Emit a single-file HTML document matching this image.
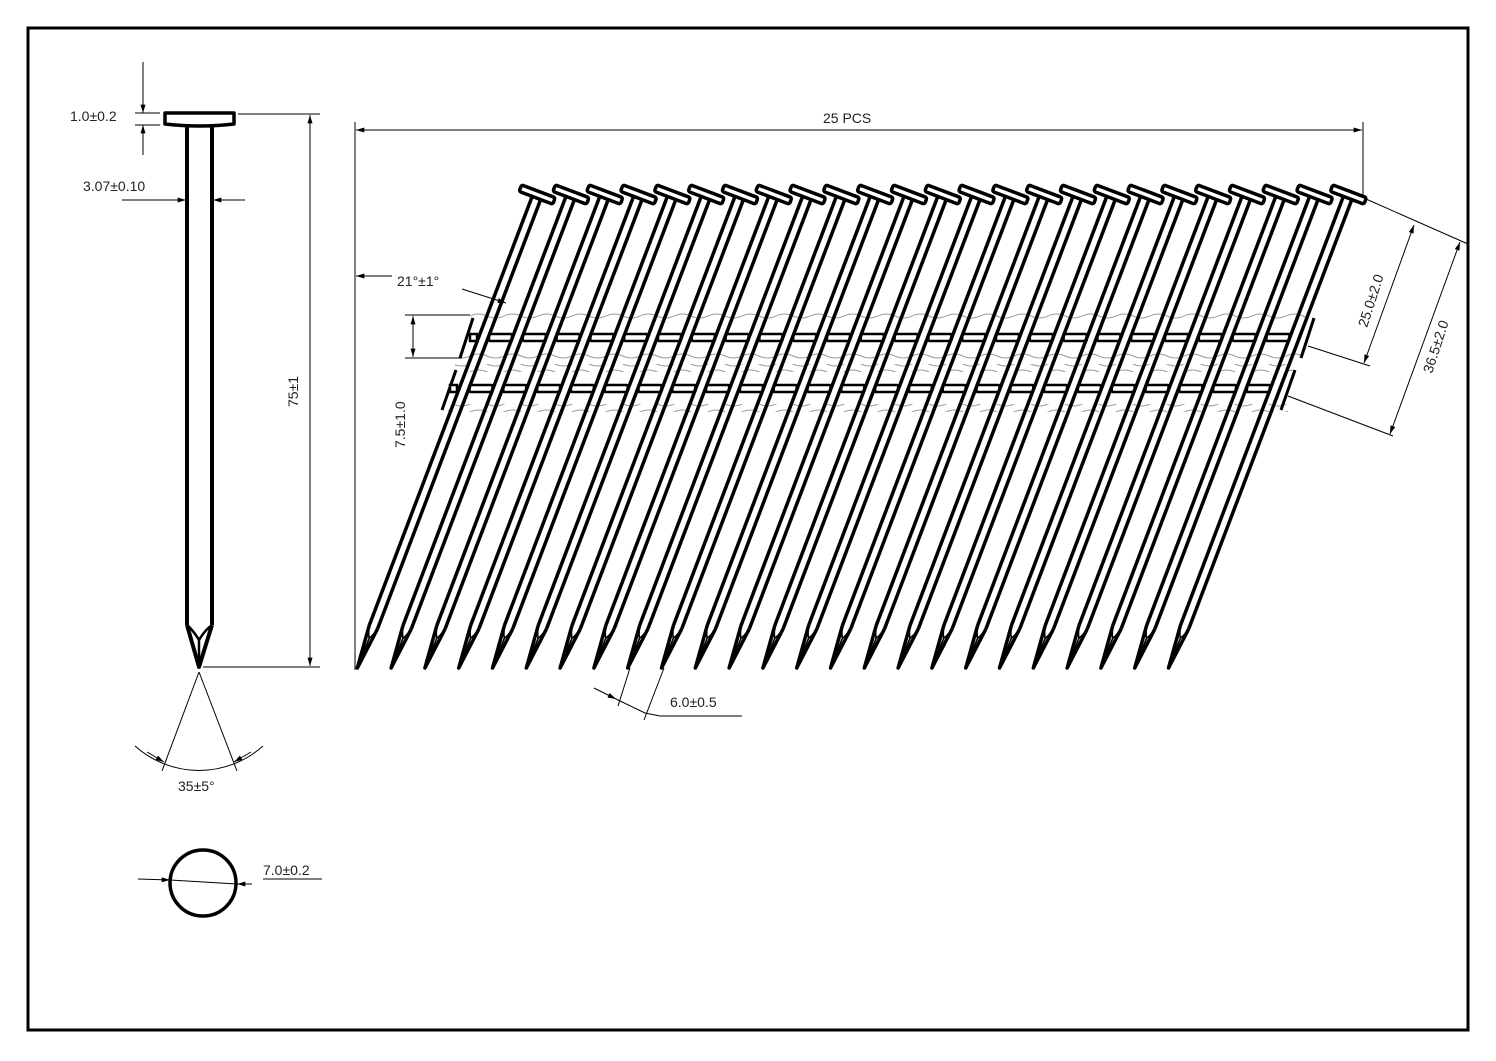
<!DOCTYPE html>
<html><head><meta charset="utf-8"><style>
html,body{margin:0;padding:0;background:#fff}
svg{display:block}
text{font-family:"Liberation Sans",sans-serif;font-size:14px;fill:#222}
</style></head><body>
<svg width="1496" height="1061" viewBox="0 0 1496 1061" xmlns="http://www.w3.org/2000/svg">
<defs>
<marker id="a" viewBox="0 0 10 6" refX="10" refY="3" markerWidth="12" markerHeight="5" orient="auto-start-reverse" markerUnits="userSpaceOnUse"><path d="M0,0L10,3L0,6z" fill="#000"/></marker>
<pattern id="wave" x="470" y="0" width="34" height="8" patternUnits="userSpaceOnUse"><path d="M0,4 Q8.5,0 17,4 T34,4" fill="none" stroke="#999" stroke-width="1"/></pattern>
<g id="nail" transform="translate(537,195) rotate(20.8)">
  <rect x="-18" y="-4" width="36" height="7" rx="2" fill="#fff" stroke="#000" stroke-width="3.5"/>
  <line x1="-4" y1="3" x2="-4" y2="462" stroke="#000" stroke-width="3.5"/>
  <line x1="5" y1="3" x2="5" y2="462" stroke="#000" stroke-width="3.5"/>
  <path d="M-4,462 L0,506 L5,462" fill="#fff" stroke="#000" stroke-width="3.5" stroke-linejoin="round"/>
  <path d="M-4,462 Q-2,470 0.5,474 Q3,470 5,462 M0.5,474 L0,504" fill="none" stroke="#000" stroke-width="1.6"/>
</g>
<g id="tabs" fill="#fff" stroke="#000" stroke-width="2.5">
  <rect x="489" y="334" width="23" height="7" rx="1"/>
  <rect x="469.5" y="385" width="23" height="7" rx="1"/>
</g>
</defs>
<rect x="28" y="28" width="1440" height="1002" fill="none" stroke="#000" stroke-width="3"/>

<!-- single nail -->
<path d="M165,113 H234 V124 Q200,128 165,124 Z" fill="#fff" stroke="#000" stroke-width="3.5" stroke-linejoin="round"/>
<line x1="187" y1="126" x2="187" y2="625" stroke="#000" stroke-width="4"/>
<line x1="212" y1="126" x2="212" y2="625" stroke="#000" stroke-width="4"/>
<path d="M187,625 L199,667 L212,625" fill="none" stroke="#000" stroke-width="4" stroke-linejoin="round"/>
<path d="M187,625 Q193,630 199,640 Q205,630 212,625 M199,640 L199,664" fill="none" stroke="#000" stroke-width="2.5"/>
<!-- 1.0 dim -->
<line x1="135" y1="113" x2="160" y2="113" stroke="#000" stroke-width="1"/>
<line x1="135" y1="125" x2="160" y2="125" stroke="#000" stroke-width="1"/>
<line x1="143" y1="62" x2="143" y2="113" stroke="#000" stroke-width="1" marker-end="url(#a)"/>
<line x1="143" y1="155" x2="143" y2="125" stroke="#000" stroke-width="1" marker-end="url(#a)"/>
<text x="70" y="121">1.0±0.2</text>
<!-- 3.07 dim -->
<line x1="122" y1="200" x2="186" y2="200" stroke="#000" stroke-width="1" marker-end="url(#a)"/>
<line x1="245" y1="200" x2="213" y2="200" stroke="#000" stroke-width="1" marker-end="url(#a)"/>
<text x="83" y="191">3.07±0.10</text>
<!-- 75 dim -->
<line x1="238" y1="114" x2="320" y2="114" stroke="#000" stroke-width="1"/>
<line x1="203" y1="667" x2="320" y2="667" stroke="#000" stroke-width="1"/>
<line x1="310" y1="390" x2="310" y2="115" stroke="#000" stroke-width="1" marker-end="url(#a)"/>
<line x1="310" y1="390" x2="310" y2="666" stroke="#000" stroke-width="1" marker-end="url(#a)"/>
<text transform="translate(298,407) rotate(-90)">75±1</text>
<!-- angle -->
<line x1="199" y1="672" x2="162" y2="771" stroke="#000" stroke-width="1"/>
<line x1="199" y1="672" x2="237" y2="771" stroke="#000" stroke-width="1"/>
<path d="M135,746 A96,96 0 0 0 263,746" fill="none" stroke="#000" stroke-width="1"/>
<path d="M147,752 L164,762" stroke="#000" marker-end="url(#a)"/>
<path d="M251,752 L234,762" stroke="#000" marker-end="url(#a)"/>
<text x="178" y="791">35±5°</text>
<!-- circle -->
<circle cx="203" cy="883" r="33" fill="none" stroke="#000" stroke-width="3.5"/>
<line x1="138" y1="879" x2="170" y2="880" stroke="#000" stroke-width="1" marker-end="url(#a)"/>
<line x1="170" y1="880" x2="237" y2="884" stroke="#000" stroke-width="1"/>
<line x1="252" y1="884" x2="237" y2="884" stroke="#000" stroke-width="1" marker-end="url(#a)"/>
<text x="263" y="875">7.0±0.2</text>
<line x1="263" y1="879" x2="322" y2="879" stroke="#000" stroke-width="1"/>

<!-- strip bands -->
<rect x="470" y="312" width="838" height="8" fill="url(#wave)"/>
<rect x="462" y="353" width="840" height="8" fill="url(#wave)"/>
<rect x="455" y="364" width="838" height="8" fill="url(#wave)"/>
<rect x="448" y="404" width="840" height="8" fill="url(#wave)"/>
<line x1="473" y1="318" x2="460" y2="358" stroke="#000" stroke-width="3"/>
<line x1="456" y1="370" x2="442" y2="410" stroke="#000" stroke-width="3"/>
<line x1="1314" y1="318" x2="1301" y2="358" stroke="#000" stroke-width="3"/>
<line x1="1295" y1="370" x2="1281" y2="410" stroke="#000" stroke-width="3"/>
<rect x="470" y="334" width="7" height="7" fill="#fff" stroke="#000" stroke-width="2.5"/>
<rect x="450" y="385" width="7" height="7" fill="#fff" stroke="#000" stroke-width="2.5"/>

<!-- nails -->
<use href="#tabs"/><use href="#nail"/>
<g transform="translate(33.8,0)"><use href="#tabs"/><use href="#nail"/></g>
<g transform="translate(67.6,0)"><use href="#tabs"/><use href="#nail"/></g>
<g transform="translate(101.4,0)"><use href="#tabs"/><use href="#nail"/></g>
<g transform="translate(135.2,0)"><use href="#tabs"/><use href="#nail"/></g>
<g transform="translate(169,0)"><use href="#tabs"/><use href="#nail"/></g>
<g transform="translate(202.8,0)"><use href="#tabs"/><use href="#nail"/></g>
<g transform="translate(236.6,0)"><use href="#tabs"/><use href="#nail"/></g>
<g transform="translate(270.4,0)"><use href="#tabs"/><use href="#nail"/></g>
<g transform="translate(304.2,0)"><use href="#tabs"/><use href="#nail"/></g>
<g transform="translate(338,0)"><use href="#tabs"/><use href="#nail"/></g>
<g transform="translate(371.8,0)"><use href="#tabs"/><use href="#nail"/></g>
<g transform="translate(405.6,0)"><use href="#tabs"/><use href="#nail"/></g>
<g transform="translate(439.4,0)"><use href="#tabs"/><use href="#nail"/></g>
<g transform="translate(473.2,0)"><use href="#tabs"/><use href="#nail"/></g>
<g transform="translate(507,0)"><use href="#tabs"/><use href="#nail"/></g>
<g transform="translate(540.8,0)"><use href="#tabs"/><use href="#nail"/></g>
<g transform="translate(574.6,0)"><use href="#tabs"/><use href="#nail"/></g>
<g transform="translate(608.4,0)"><use href="#tabs"/><use href="#nail"/></g>
<g transform="translate(642.2,0)"><use href="#tabs"/><use href="#nail"/></g>
<g transform="translate(676,0)"><use href="#tabs"/><use href="#nail"/></g>
<g transform="translate(709.8,0)"><use href="#tabs"/><use href="#nail"/></g>
<g transform="translate(743.6,0)"><use href="#tabs"/><use href="#nail"/></g>
<g transform="translate(777.4,0)"><use href="#tabs"/><use href="#nail"/></g>
<g transform="translate(811.2,0)"><use href="#nail"/></g>

<!-- 25 PCS -->
<line x1="355" y1="122" x2="355" y2="670" stroke="#000" stroke-width="1"/>
<line x1="1363" y1="122" x2="1363" y2="198" stroke="#000" stroke-width="1"/>
<line x1="860" y1="130" x2="356" y2="130" stroke="#000" stroke-width="1" marker-end="url(#a)"/>
<line x1="860" y1="130" x2="1362" y2="130" stroke="#000" stroke-width="1" marker-end="url(#a)"/>
<text x="823" y="123">25 PCS</text>
<!-- 21 deg -->
<line x1="392" y1="276" x2="356" y2="276" stroke="#000" stroke-width="1" marker-end="url(#a)"/>
<text x="397" y="286">21°±1°</text>
<line x1="462" y1="289" x2="506" y2="303" stroke="#000" stroke-width="1" marker-end="url(#a)"/>
<!-- 7.5 -->
<line x1="405" y1="315" x2="470" y2="315" stroke="#000" stroke-width="1"/>
<line x1="405" y1="358" x2="462" y2="358" stroke="#000" stroke-width="1"/>
<line x1="413" y1="336" x2="413" y2="316" stroke="#000" stroke-width="1" marker-end="url(#a)"/>
<line x1="413" y1="336" x2="413" y2="357" stroke="#000" stroke-width="1" marker-end="url(#a)"/>
<text transform="translate(405,448) rotate(-90)">7.5±1.0</text>
<!-- right dims -->
<line x1="1366" y1="199" x2="1468" y2="244" stroke="#000" stroke-width="1"/>
<line x1="1308" y1="346" x2="1370" y2="366" stroke="#000" stroke-width="1"/>
<line x1="1288" y1="396" x2="1393" y2="436" stroke="#000" stroke-width="1"/>
<line x1="1389" y1="294" x2="1414" y2="225" stroke="#000" stroke-width="1" marker-end="url(#a)"/>
<line x1="1389" y1="294" x2="1364" y2="363" stroke="#000" stroke-width="1" marker-end="url(#a)"/>
<line x1="1425" y1="338" x2="1460" y2="242" stroke="#000" stroke-width="1" marker-end="url(#a)"/>
<line x1="1425" y1="338" x2="1390" y2="434" stroke="#000" stroke-width="1" marker-end="url(#a)"/>
<text transform="translate(1367,328) rotate(-72)">25.0±2.0</text>
<text transform="translate(1432,374) rotate(-72)">36.5±2.0</text>
<!-- 6.0 -->
<line x1="630" y1="668" x2="618" y2="706" stroke="#000" stroke-width="1"/>
<line x1="664" y1="668" x2="644" y2="720" stroke="#000" stroke-width="1"/>
<line x1="594" y1="688" x2="616" y2="699" stroke="#000" stroke-width="1" marker-end="url(#a)"/>
<line x1="616" y1="699" x2="645" y2="713" stroke="#000" stroke-width="1"/>
<line x1="645" y1="713" x2="660" y2="716" stroke="#000" stroke-width="1"/>
<line x1="660" y1="716" x2="742" y2="716" stroke="#000" stroke-width="1"/>
<text x="670" y="707">6.0±0.5</text>
</svg>
</body></html>
